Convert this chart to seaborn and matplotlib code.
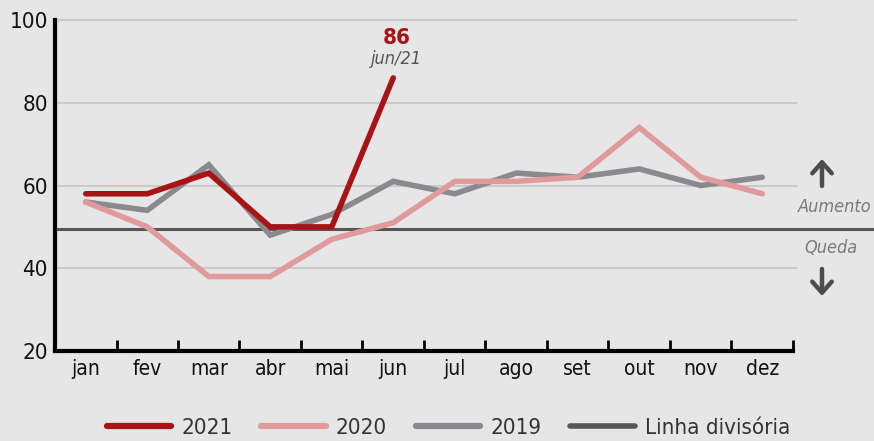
import pandas as pd
import matplotlib.pyplot as plt
import seaborn as sns
from matplotlib.lines import Line2D

# dados
meses = ['jan', 'fev', 'mar', 'abr', 'mai', 'jun', 'jul', 'ago', 'set', 'out', 'nov', 'dez']
v2021 = [58, 58, 63, 50, 50, 86]
v2020 = [56, 50, 38, 38, 47, 51, 61, 61, 62, 74, 62, 58]
v2019 = [56, 54, 65, 48, 53, 61, 58, 63, 62, 64, 60, 62]
linha_divisoria = 49.5

cores = {'2021': '#a81316', '2020': '#e09a9c', '2019': '#8a898e'}
cor_div = '#565656'

rows = []
for ano, vals in [('2019', v2019), ('2020', v2020), ('2021', v2021)]:
    for i, v in enumerate(vals):
        rows.append({'mes': i, 'valor': v, 'ano': ano})
df = pd.DataFrame(rows)

sns.set_style('white')
plt.rcParams['font.family'] = ['DejaVu Sans']
plt.rcParams['font.stretch'] = 'condensed'
bg = '#e6e6e6'

fig = plt.figure(figsize=(8.74, 4.41), dpi=100, facecolor=bg)
ax = fig.add_axes([55 / 874, 90 / 441, (793 - 55) / 874, (351 - 20) / 441])
ax.set_facecolor(bg)

for y in [40, 60, 80, 100]:
    ax.axhline(y, color='#c6c6c6', lw=1.3, zorder=0, xmax=1.005, clip_on=False)

ax.axhline(linha_divisoria, xmin=0, xmax=(874 - 55) / (793 - 55), color=cor_div,
           lw=2.2, clip_on=False, zorder=1)

sns.lineplot(data=df, x='mes', y='valor', hue='ano', hue_order=['2019', '2020', '2021'],
             palette=cores, linewidth=4, ax=ax, legend=False, zorder=3)
for ln in ax.get_lines():
    ln.set_solid_capstyle('round')
    ln.set_solid_joinstyle('miter')

ax.set_xlim(-0.5, 11.5)
ax.set_ylim(20, 100)
ax.set_yticks([20, 40, 60, 80, 100])
ax.set_xticks(range(12))
ax.set_xticklabels(meses)
ax.set_xticks([i - 0.5 for i in range(13)], minor=True)
ax.tick_params(axis='x', which='major', bottom=False, length=0, pad=6, labelsize=15,
               labelcolor='#111111')
ax.tick_params(axis='x', which='minor', bottom=True, direction='in', length=8, width=2,
               color='black')
ax.tick_params(axis='y', left=False, length=0, pad=5, labelsize=16, labelcolor='#111111')
ax.set_xlabel('')
ax.set_ylabel('')
for s in ['top', 'right']:
    ax.spines[s].set_visible(False)
for s in ['left', 'bottom']:
    ax.spines[s].set_linewidth(3)
    ax.spines[s].set_color('black')

# destaque jun/21
ax.text(5.05, 93.2, '86', color=cores['2021'], fontsize=16, fontweight='bold',
        ha='center', va='bottom')
ax.text(5.05, 88.5, 'jun/21', color='#555555', fontsize=13, style='italic',
        ha='center', va='bottom')

# setas e rótulos à direita
fig.text(871 / 874, 1 - 207 / 441, 'Aumento', color='#7a7a7a', fontsize=13,
         style='italic', ha='right', va='center')
fig.text(804 / 874, 1 - 248 / 441, 'Queda', color='#7a7a7a', fontsize=13,
         style='italic', ha='left', va='center')
seta = dict(arrowstyle='->,head_width=0.32,head_length=0.36', color='#4d4d4d', lw=3.2,
            mutation_scale=22, shrinkA=0, shrinkB=0)
ax.annotate('', xy=(822 / 874, 1 - 159 / 441), xytext=(822 / 874, 1 - 186 / 441),
            xycoords='figure fraction', arrowprops=seta)
ax.annotate('', xy=(822 / 874, 1 - 296 / 441), xytext=(822 / 874, 1 - 269 / 441),
            xycoords='figure fraction', arrowprops=seta)

handles = [Line2D([], [], color=cores[a], lw=4.5, solid_capstyle='round') for a in ['2021', '2020', '2019']]
handles.append(Line2D([], [], color=cor_div, lw=4, solid_capstyle='round'))
labels = ['2021', '2020', '2019', 'Linha divisória']
leg = fig.legend(handles, labels, loc='center', bbox_to_anchor=(0.513, 1 - 428 / 441), ncol=4,
                 frameon=False, fontsize=16, handlelength=2.9, handletextpad=0.45,
                 columnspacing=1.3, labelcolor='#333333')

fig.savefig('out.png', dpi=100, facecolor=bg)
